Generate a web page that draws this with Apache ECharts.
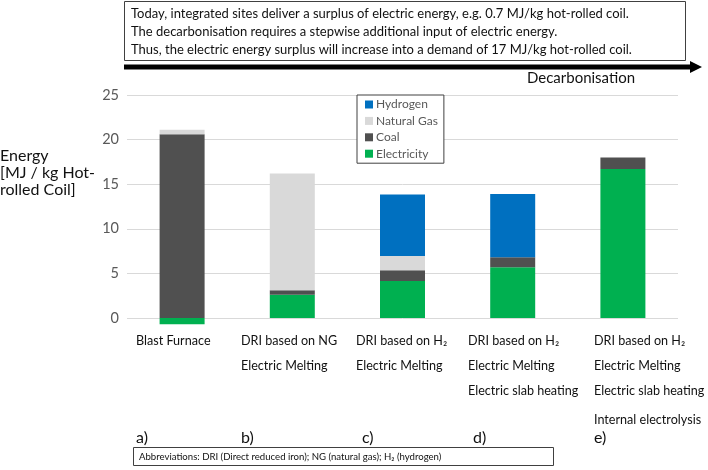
<!DOCTYPE html>
<html>
<head>
<meta charset="utf-8">
<script src="https://cdn.jsdelivr.net/npm/echarts@6/dist/echarts.min.js"></script>
<style>html,body{margin:0;padding:0;background:#fff}#c{width:708px;height:470px}</style>
</head>
<body>
<div id="c"></div>
<script>
// ---- data ----
const categories = ['a)', 'b)', 'c)', 'd)', 'e)'];
const categoryLines = [
  ['Blast Furnace'],
  ['DRI based on NG', 'Electric Melting'],
  ['DRI based on H\u2082', 'Electric Melting'],
  ['DRI based on H\u2082', 'Electric Melting', 'Electric slab heating'],
  ['DRI based on H\u2082', 'Electric Melting', 'Electric slab heating', 'Internal electrolysis']
];
const electricity = [-0.7, 2.6, 4.15, 5.7, 16.7];
const coal = [20.6, 0.5, 1.2, 1.1, 1.3];
const naturalGas = [0.5, 13.1, 1.6, 0, 0];
const hydrogen = [0, 0, 6.9, 7.1, 0];
const yTicks = [0, 5, 10, 15, 20, 25];
const noteLines = [
  'Today, integrated sites deliver a surplus of electric energy, e.g. 0.7 MJ/kg hot-rolled coil.',
  'The decarbonisation requires a stepwise additional input of electric energy.',
  'Thus, the electric energy surplus will increase into a demand of 17 MJ/kg hot-rolled coil.'
];
const arrowLabel = 'Decarbonisation';
const yName = ['Energy', '[MJ / kg Hot-', 'rolled Coil]'];
const abbreviations = 'Abbreviations: DRI (Direct reduced iron); NG (natural gas); H\u2082 (hydrogen)';

// ---- layout ----
const FONT = 'Lato, "Liberation Sans", sans-serif';
const labelLeft = [136, 241, 356, 468, 594];
const letterLeft = [136, 241, 362, 473, 594];
const lineY = [341, 366, 391, 420];

const chart = echarts.init(document.getElementById('c'));

const graphics = [];
// top note box
graphics.push({type:'rect', shape:{x:124.5, y:1.5, width:561, height:59}, style:{fill:'#fff', stroke:'#404040', lineWidth:1}});
noteLines.forEach((t,i)=>graphics.push({type:'text', x:131, y:14+i*18, style:{text:t, font:'13px '+FONT, fill:'#111', textVerticalAlign:'middle'}}));
// arrow
graphics.push({type:'rect', shape:{x:124, y:64.5, width:568, height:5}, style:{fill:'#000'}});
graphics.push({type:'polygon', shape:{points:[[690,61],[702,67],[690,73]]}, style:{fill:'#000'}});
graphics.push({type:'text', x:581, y:78, style:{text:arrowLabel, font:'15px '+FONT, fill:'#111', textAlign:'center', textVerticalAlign:'middle'}});
// y name
yName.forEach((t,i)=>graphics.push({type:'text', x:0, y:156+i*17, style:{text:t, font:'16px '+FONT, fill:'#111', textVerticalAlign:'middle'}}));
// category labels
categoryLines.forEach((lines,ci)=>{
  lines.forEach((t,li)=>graphics.push({type:'text', x:labelLeft[ci], y:lineY[li], style:{text:t, font:'12.6px '+FONT, fill:'#111', textVerticalAlign:'middle'}}));
  graphics.push({type:'text', x:letterLeft[ci], y:438, style:{text:categories[ci], font:'16px '+FONT, fill:'#111', textVerticalAlign:'middle'}});
});
// abbreviation box
graphics.push({type:'rect', shape:{x:133.5, y:447.5, width:420, height:18}, style:{fill:'#fff', stroke:'#404040', lineWidth:1}});
graphics.push({type:'text', x:139, y:457, style:{text:abbreviations, font:'9.6px '+FONT, fill:'#111', textVerticalAlign:'middle'}});

const mk = (name, data, color) => ({
  name, type:'bar', stack:'total', data, barWidth:45, clip:false,
  itemStyle:{color}, emphasis:{disabled:true}
});

chart.setOption({
  animation:false,
  grid:{left:127, right:30, top:95, bottom:152, containLabel:false},
  legend:{
    data:['Hydrogen','Natural Gas','Coal','Electricity'],
    orient:'vertical', left:357, top:95,
    backgroundColor:'#fff', borderColor:'#404040', borderWidth:1,
    padding:[3,6,3,8], itemWidth:8, itemHeight:8, itemGap:3.4, icon:'rect',
    textStyle:{fontFamily:FONT, fontSize:12, color:'#595959', lineHeight:13, padding:[0,0,0,-2]}
  },
  xAxis:{type:'category', data:categories, axisLine:{show:false}, axisTick:{show:false}, axisLabel:{show:false}},
  yAxis:{type:'value', min:yTicks[0], max:yTicks[yTicks.length-1], interval:5,
    axisLine:{show:false}, axisTick:{show:false},
    axisLabel:{fontFamily:FONT, fontSize:14.5, color:'#595959', margin:8},
    splitLine:{lineStyle:{color:'#d9d9d9', width:1}}},
  series:[
    mk('Electricity', electricity, '#00B050'),
    mk('Coal', coal, '#505050'),
    mk('Natural Gas', naturalGas, '#D9D9D9'),
    mk('Hydrogen', hydrogen, '#0070C0')
  ],
  graphic:graphics
});
</script>
</body>
</html>
